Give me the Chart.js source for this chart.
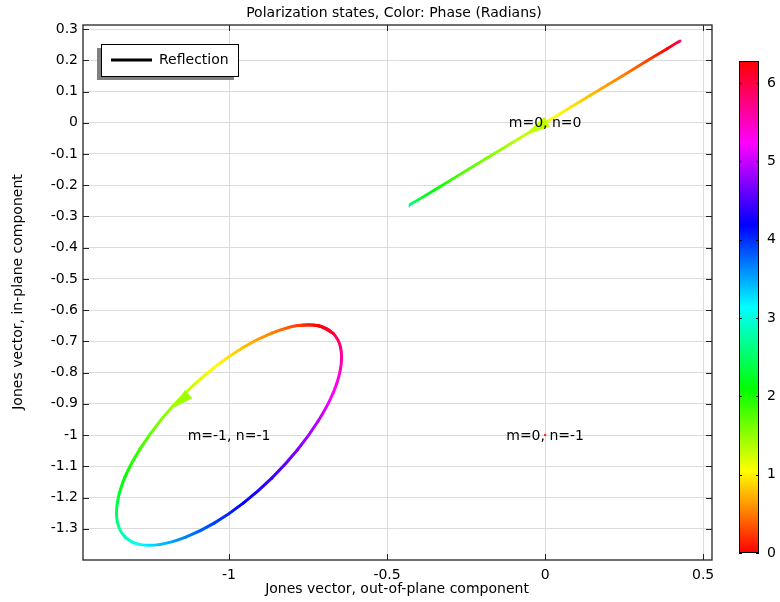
<!DOCTYPE html>
<html><head><meta charset="utf-8">
<script src="https://cdn.jsdelivr.net/npm/chart.js@4.4.1/dist/chart.umd.min.js"></script>
<style>html,body{margin:0;padding:0;background:#fff;}#wrap{width:780px;height:602px;}</style>
</head><body><div id="wrap"><canvas id="c" width="780" height="602"></canvas></div>
<script>
const chartTitle = 'Polarization states, Color: Phase (Radians)';
const xAxisTitle = 'Jones vector, out-of-plane component';
const yAxisTitle = 'Jones vector, in-plane component';
const legendLabel = 'Reflection';

const xTicks = [-1, -0.5, 0, 0.5];
const xTickLabels = ['-1', '-0.5', '0', '0.5'];
const yTicks = [0.3, 0.2, 0.1, 0, -0.1, -0.2, -0.3, -0.4, -0.5, -0.6, -0.7, -0.8, -0.9, -1, -1.1, -1.2, -1.3];
const yTickLabels = ['0.3', '0.2', '0.1', '0', '-0.1', '-0.2', '-0.3', '-0.4', '-0.5', '-0.6', '-0.7', '-0.8', '-0.9', '-1', '-1.1', '-1.2', '-1.3'];
const colorbarTicks = [0, 1, 2, 3, 4, 5, 6];
const colorbarLabels = ['0', '1', '2', '3', '4', '5', '6'];
const phaseMax = 6.283;

// order m=-1, n=-1 : elliptical state (closed loop, first/last points overlap the seam)
const ellX = [-0.671, -0.717, -0.783, -0.863, -0.953, -1.046, -1.136, -1.216, -1.282, -1.329, -1.353, -1.353, -1.329, -1.283, -1.217, -1.137, -1.047, -0.954, -0.864, -0.784, -0.718, -0.671, -0.647, -0.647, -0.671, -0.717, -0.783];
const ellY = [-0.674, -0.650, -0.649, -0.673, -0.718, -0.783, -0.863, -0.952, -1.045, -1.134, -1.214, -1.279, -1.326, -1.350, -1.350, -1.327, -1.282, -1.217, -1.137, -1.048, -0.955, -0.866, -0.786, -0.720, -0.674, -0.650, -0.649];
const ellPhase = [6.021, 0, 0.262, 0.524, 0.785, 1.047, 1.309, 1.571, 1.833, 2.094, 2.356, 2.618, 2.880, 3.142, 3.403, 3.665, 3.927, 4.189, 4.451, 4.712, 4.974, 5.236, 5.498, 5.760, 6.021, 6.283, 0.262];

// order m=0, n=0 : linear state (visible pass)
const linX = [0.427, 0.420, 0.386, 0.325, 0.243, 0.143, 0.034, -0.077, -0.183, -0.277, -0.351, -0.402, -0.426, -0.427];
const linY = [0.262, 0.258, 0.237, 0.200, 0.149, 0.088, 0.021, -0.047, -0.112, -0.170, -0.216, -0.247, -0.261, -0.262];
const linPhase = [5.84, 6.02, 0, 0.262, 0.524, 0.785, 1.047, 1.309, 1.571, 1.833, 2.094, 2.356, 2.618, 2.70];

// order m=0, n=-1 : vanishing state
const zeroX = [0];
const zeroY = [-1];

// direction arrows
const arrowTipX = [-1.177, -0.070];
const arrowTipY = [-0.913, -0.043];
const arrowBaseX = [-1.128, 0.006];
const arrowBaseY = [-0.869, 0.003];
const arrowPhase = [1.45, 1.3];

// diffraction order labels
const orderLabels = ['m=0, n=0', 'm=0, n=-1', 'm=-1, n=-1'];
const orderX = [0, 0, -1];
const orderY = [0, -1, -1];

const FONT = '14px "DejaVu Sans", sans-serif';
const TWO_PI = 2 * Math.PI;
const canvas = document.getElementById('c');
const g2d = canvas.getContext('2d');

function hueColor(phase) {
  let p = ((phase % TWO_PI) + TWO_PI) % TWO_PI;
  let h = p / TWO_PI * 6;
  const i = Math.floor(h) % 6, f = h - Math.floor(h);
  let r, g, b;
  switch (i) {
    case 0: r = 1; g = f; b = 0; break;
    case 1: r = 1 - f; g = 1; b = 0; break;
    case 2: r = 0; g = 1; b = f; break;
    case 3: r = 0; g = 1 - f; b = 1; break;
    case 4: r = f; g = 0; b = 1; break;
    default: r = 1; g = 0; b = 1 - f;
  }
  return `rgb(${Math.round(r * 255)},${Math.round(g * 255)},${Math.round(b * 255)})`;
}

function segGradient(ctx, phases) {
  const p0 = ctx.p0, p1 = ctx.p1;
  const a = phases[ctx.p0DataIndex];
  let d = phases[ctx.p1DataIndex] - a;
  if (d > Math.PI) d -= TWO_PI;
  if (d < -Math.PI) d += TWO_PI;
  if (Math.abs(p1.x - p0.x) + Math.abs(p1.y - p0.y) < 0.01) return hueColor(a);
  const gr = g2d.createLinearGradient(p0.x, p0.y, p1.x, p1.y);
  for (let s = 0; s <= 4; s++) gr.addColorStop(s / 4, hueColor(a + d * s / 4));
  return gr;
}

const toPts = (xs, ys) => xs.map((x, i) => ({ x: x, y: ys[i] }));

const decor = {
  id: 'decor',
  afterDatasetsDraw(chart) {
    const c = chart.ctx, xs = chart.scales.x, ys = chart.scales.y;
    for (let i = 0; i < arrowTipX.length; i++) {
      const tx = xs.getPixelForValue(arrowTipX[i]), ty = ys.getPixelForValue(arrowTipY[i]);
      const bx = xs.getPixelForValue(arrowBaseX[i]), by = ys.getPixelForValue(arrowBaseY[i]);
      const L = Math.hypot(tx - bx, ty - by), ux = (tx - bx) / L, uy = (ty - by) / L;
      const w = 5.5;
      c.save();
      c.fillStyle = hueColor(arrowPhase[i]);
      c.beginPath();
      c.moveTo(tx, ty);
      c.lineTo(bx - uy * w, by + ux * w);
      c.lineTo(bx + uy * w, by - ux * w);
      c.closePath();
      c.fill();
      c.restore();
    }
  },
  afterDraw(chart) {
    const c = chart.ctx, a = chart.chartArea, xs = chart.scales.x, ys = chart.scales.y;
    c.save();
    c.strokeStyle = '#222';
    c.lineWidth = 1.3;
    c.strokeRect(a.left, a.top, a.right - a.left, a.bottom - a.top);
    c.lineWidth = 1;
    c.beginPath();
    xTicks.forEach(v => {
      const px = Math.round(xs.getPixelForValue(v)) + 0.5;
      c.moveTo(px, a.bottom); c.lineTo(px, a.bottom - 6);
      c.moveTo(px, a.top); c.lineTo(px, a.top + 6);
    });
    yTicks.forEach(v => {
      const py = Math.round(ys.getPixelForValue(v)) + 0.5;
      c.moveTo(a.left, py); c.lineTo(a.left + 6, py);
      c.moveTo(a.right, py); c.lineTo(a.right - 6, py);
    });
    c.stroke();

    c.font = FONT;
    c.fillStyle = '#000';
    c.textAlign = 'center'; c.textBaseline = 'middle';
    orderLabels.forEach((t, i) => {
      c.fillText(t, xs.getPixelForValue(orderX[i]), ys.getPixelForValue(orderY[i]) + 1);
    });
    c.fillText(chartTitle, 394, 13);
    c.fillText(xAxisTitle, 397, 589);
    c.save();
    c.translate(18, 292);
    c.rotate(-Math.PI / 2);
    c.fillText(yAxisTitle, 0, 0);
    c.restore();

    // legend
    c.fillStyle = '#808080';
    c.fillRect(97, 48, 137, 32);
    c.fillStyle = '#fff';
    c.fillRect(101, 44, 137, 32);
    c.strokeStyle = '#000';
    c.lineWidth = 1;
    c.strokeRect(101.5, 44.5, 137, 32);
    c.lineWidth = 3;
    c.beginPath(); c.moveTo(111, 60); c.lineTo(152, 60); c.stroke();
    c.fillStyle = '#000';
    c.textAlign = 'left';
    c.fillText(legendLabel, 159, 60.5);

    // colorbar
    const cx0 = 739, cx1 = 759, cy0 = 61, cy1 = 553;
    const cb = v => cy1 - v / phaseMax * (cy1 - cy0);
    const gr = c.createLinearGradient(0, cy1, 0, cy0);
    for (let s = 0; s <= 36; s++) gr.addColorStop(s / 36, hueColor(s / 36 * TWO_PI));
    c.fillStyle = gr;
    c.fillRect(cx0, cy0, cx1 - cx0, cy1 - cy0);
    c.strokeStyle = '#000';
    c.lineWidth = 1;
    c.strokeRect(cx0 + 0.5, cy0 + 0.5, cx1 - cx0 - 1, cy1 - cy0 - 1);
    c.beginPath();
    colorbarTicks.forEach(v => {
      const py = Math.round(cb(v)) + 0.5;
      c.moveTo(cx0, py); c.lineTo(cx0 + 3, py);
      c.moveTo(cx1, py); c.lineTo(cx1 - 3, py);
    });
    c.stroke();
    c.fillStyle = '#000';
    c.textAlign = 'left'; c.textBaseline = 'middle';
    colorbarTicks.forEach((v, i) => c.fillText(colorbarLabels[i], 767, cb(v)));
    c.restore();
  }
};

new Chart(canvas, {
  type: 'scatter',
  data: {
    datasets: [
      {
        label: legendLabel,
        data: toPts(ellX, ellY),
        showLine: true, pointRadius: 0, borderWidth: 3, tension: 0.33,
        borderCapStyle: 'round',
        segment: {
          borderColor: ctx => segGradient(ctx, ellPhase),
          borderDashOffset: ctx => ctx.p0DataIndex
        }
      },
      {
        label: legendLabel,
        data: toPts(linX, linY),
        showLine: true, pointRadius: 0, borderWidth: 2.8, tension: 0,
        borderCapStyle: 'round',
        segment: {
          borderColor: ctx => segGradient(ctx, linPhase),
          borderDashOffset: ctx => ctx.p0DataIndex
        }
      },
      {
        label: 'zero',
        data: toPts(zeroX, zeroY),
        showLine: false, pointRadius: 1.2, borderWidth: 0,
        backgroundColor: 'rgb(255,40,40)'
      }
    ]
  },
  options: {
    responsive: false,
    animation: false,
    layout: { padding: { left: 0, top: 25, right: 68, bottom: 0 } },
    plugins: { legend: { display: false }, tooltip: { enabled: false }, title: { display: false } },
    scales: {
      x: {
        type: 'linear', min: -1.462, max: 0.528,
        afterBuildTicks: s => { s.ticks = xTicks.map(v => ({ value: v })); },
        afterFit: s => { s.height = 42; },
        ticks: {
          font: { family: '"DejaVu Sans", sans-serif', size: 14 }, color: '#000', padding: 7,
          maxRotation: 0, autoSkip: false,
          callback: v => { const i = xTicks.indexOf(v); return i >= 0 ? xTickLabels[i] : ''; }
        },
        grid: { color: '#dcdcdc', drawTicks: false },
        border: { display: false }
      },
      y: {
        type: 'linear', min: -1.4, max: 0.313,
        afterBuildTicks: s => { s.ticks = yTicks.map(v => ({ value: v })); },
        afterFit: s => { s.width = 83; },
        ticks: {
          font: { family: '"DejaVu Sans", sans-serif', size: 14 }, color: '#000', padding: 5,
          autoSkip: false,
          callback: v => { const i = yTicks.findIndex(t => Math.abs(t - v) < 1e-9); return i >= 0 ? yTickLabels[i] : ''; }
        },
        grid: { color: '#dcdcdc', drawTicks: false },
        border: { display: false }
      }
    }
  },
  plugins: [decor]
});
</script>
</body></html>
